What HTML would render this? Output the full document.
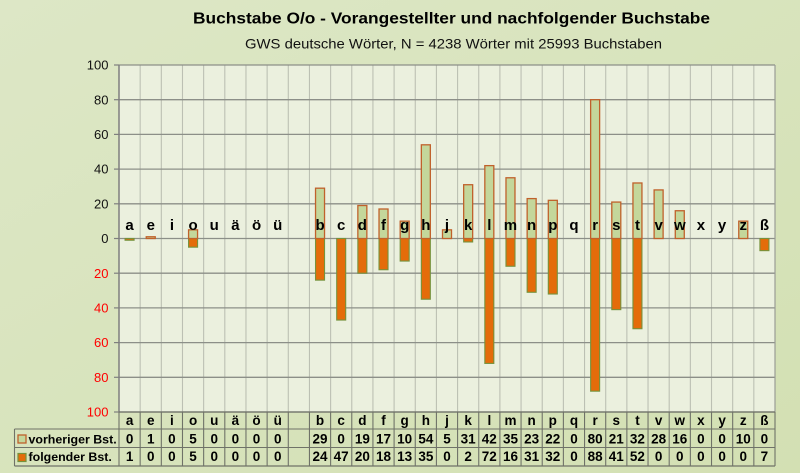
<!DOCTYPE html>
<html><head><meta charset="utf-8"><style>
html,body{margin:0;padding:0;background:#d8e4bc;}
svg{display:block;font-family:"Liberation Sans",Arial,sans-serif;}
</style></head><body>
<svg width="800" height="473" viewBox="0 0 800 473" xmlns="http://www.w3.org/2000/svg">
<defs>
<linearGradient id="bg" x1="0" y1="0" x2="1" y2="1">
<stop offset="0" stop-color="#dde7c6"/>
<stop offset="1" stop-color="#d3e0b3"/>
</linearGradient>
</defs>
<rect x="0" y="0" width="800" height="473" fill="url(#bg)"/>
<text x="451.5" y="23.5" font-size="16" font-weight="bold" text-anchor="middle" textLength="517" lengthAdjust="spacingAndGlyphs" fill="#000">Buchstabe O/o - Vorangestellter und nachfolgender Buchstabe</text>
<text x="453.5" y="48.7" font-size="14" text-anchor="middle" textLength="417" lengthAdjust="spacingAndGlyphs" fill="#111">GWS deutsche Wörter, N = 4238 Wörter mit 25993 Buchstaben</text>
<rect x="119" y="65" width="656" height="347" fill="#ebf0de"/>
<g id="g"></g>
</svg>
<script>
(function(){
var NS="http://www.w3.org/2000/svg";
var g=document.getElementById("g");
function el(n,a,t){var e=document.createElementNS(NS,n);for(var k in a)e.setAttribute(k,a[k]);if(t!==undefined)e.textContent=t;g.appendChild(e);return e;}
var x0=119,x1=775,n=31,w=(x1-x0)/n;
function Y(v){return 238.5-v*1.735;}
var cats=['a','e','i','o','u','ä','ö','ü','','b','c','d','f','g','h','j','k','l','m','n','p','q','r','s','t','v','w','x','y','z','ß'];
var prev=[0,1,0,5,0,0,0,0,null,29,0,19,17,10,54,5,31,42,35,23,22,0,80,21,32,28,16,0,0,10,0];
var next=[1,0,0,5,0,0,0,0,null,24,47,20,18,13,35,0,2,72,16,31,32,0,88,41,52,0,0,0,0,0,7];
for(var i=1;i<n;i++){var x=x0+i*w;el('line',{x1:x,y1:65,x2:x,y2:412,stroke:'#bcc0b3','stroke-width':1.1});}
for(var v=100;v>=-100;v-=20){var y=Y(v);
 el('line',{x1:x0,y1:y,x2:x1,y2:y,stroke:'#8c8f88','stroke-width':1.3});
 el('line',{x1:114,y1:y,x2:x0,y2:y,stroke:'#7f7f7f','stroke-width':1.2});
 el('text',{x:108.5,y:y+4.6,'font-size':13,'text-anchor':'end',fill:v<0?'#ff0000':'#111'},String(Math.abs(v)));
}
el('line',{x1:x1,y1:65,x2:x1,y2:412,stroke:'#9a9d96','stroke-width':1.2});
var bw=9;
for(var i=0;i<n;i++){if(prev[i]===null)continue;var cx=x0+(i+0.5)*w;
 if(next[i]>0){el('rect',{x:cx-bw/2,y:Y(0),width:bw,height:next[i]*1.735,fill:'#e46c0a',stroke:'#76923c','stroke-width':1.1});}
 if(prev[i]>0){el('rect',{x:cx-bw/2,y:Y(prev[i]),width:bw,height:prev[i]*1.735,fill:'#c4d79b',stroke:'#c0612b','stroke-width':1.3});}
}
el('line',{x1:x0,y1:65,x2:x0,y2:412,stroke:'#7f7f7f','stroke-width':1.5});
for(var i=0;i<n;i++){if(!cats[i])continue;var cx=x0+(i+0.5)*w;
 el('text',{x:cx,y:230,'font-size':15,'font-weight':'bold','text-anchor':'middle',fill:'#000'},cats[i]);}
var tc='#6f7268';
el('line',{x1:x0,y1:412,x2:x1,y2:412,stroke:tc,'stroke-width':1.2});
el('line',{x1:14.5,y1:429,x2:x1,y2:429,stroke:tc,'stroke-width':1.1});
el('line',{x1:14.5,y1:447.5,x2:x1,y2:447.5,stroke:tc,'stroke-width':1.1});
el('line',{x1:14.5,y1:466,x2:x1,y2:466,stroke:tc,'stroke-width':1.2});
el('line',{x1:14.5,y1:429,x2:14.5,y2:466,stroke:tc,'stroke-width':1.1});
for(var i=0;i<=n;i++){var x=x0+i*w;el('line',{x1:x,y1:412,x2:x,y2:466,stroke:tc,'stroke-width':1.1});}
for(var i=0;i<n;i++){var cx=x0+(i+0.5)*w;
 if(cats[i]){el('text',{x:cx,y:425,'font-size':13.5,'font-weight':'bold','text-anchor':'middle',fill:'#000'},cats[i]);}
 if(prev[i]!==null){
  el('text',{x:cx,y:443.5,'font-size':13.5,'font-weight':'bold','text-anchor':'middle',fill:'#000'},String(prev[i]));
  el('text',{x:cx,y:461.2,'font-size':13.5,'font-weight':'bold','text-anchor':'middle',fill:'#000'},String(next[i]));
 }
}
el('rect',{x:18,y:435,width:8,height:8,fill:'#c4d79b',stroke:'#c0612b','stroke-width':1.3});
el('rect',{x:18,y:453.5,width:8,height:8,fill:'#e46c0a',stroke:'#76923c','stroke-width':1.2});
el('text',{x:28.5,y:443.3,'font-size':12.4,'font-weight':'bold',fill:'#000'},'vorheriger Bst.');
el('text',{x:28.5,y:461,'font-size':12.4,'font-weight':'bold',fill:'#000'},'folgender Bst.');
})();
</script>
</body></html>
